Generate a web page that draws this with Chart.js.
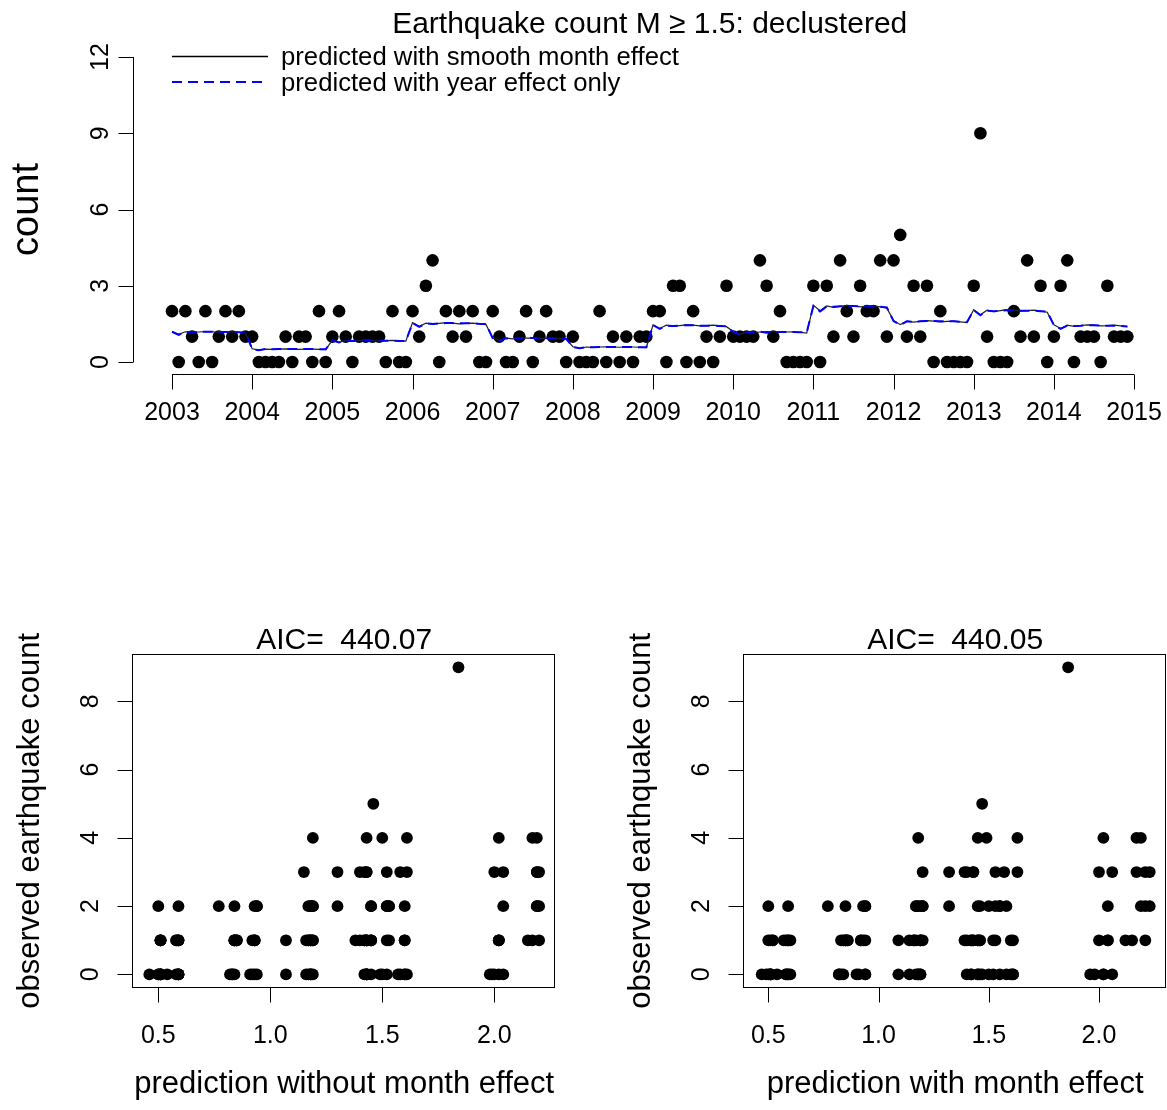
<!DOCTYPE html>
<html><head><meta charset="utf-8">
<script src="https://cdn.jsdelivr.net/npm/chart.js@4.4.1/dist/chart.umd.min.js"></script>
<style>
html,body{margin:0;padding:0;background:#fff;}
#wrap{position:relative;width:1167px;height:1110px;background:#fff;}
canvas{position:absolute;left:0;top:0;}
</style></head><body>
<div id="wrap">
<canvas id="cTop" width="1167" height="1110"></canvas>
<canvas id="cLeft" width="1167" height="1110"></canvas>
<canvas id="cRight" width="1167" height="1110"></canvas>
</div>
<script>
// ---------------- data ----------------
const years = [2003,2004,2005,2006,2007,2008,2009,2010,2011,2012,2013,2014];
// monthly earthquake counts (Jan..Dec for each year)
const counts = [
  2,0,2,1,0,2,0,1,2,1,2,1,   // 2003
  1,0,0,0,0,1,0,1,1,0,2,0,   // 2004
  1,2,1,0,1,1,1,1,0,2,0,0,   // 2005
  2,1,3,4,0,2,1,2,1,2,0,0,   // 2006
  2,1,0,0,1,2,0,1,2,1,1,0,   // 2007
  1,0,0,0,2,0,1,0,1,0,1,1,   // 2008
  2,2,0,3,3,0,2,0,1,0,1,3,   // 2009
  1,1,1,1,4,3,1,2,0,0,0,0,   // 2010
  3,0,3,1,4,2,1,3,2,2,4,1,   // 2011
  4,5,1,3,1,3,0,2,0,0,0,0,   // 2012
  3,9,1,0,0,0,2,1,4,1,3,0,   // 2013
  1,3,4,0,1,1,1,0,3,1,1,1    // 2014
];
// prediction with year effect only
const predYearOnly = [
  1.19,1.07,1.18,1.17,1.18,1.19,1.19,1.18,1.18,1.18,1.17,1.16,
  0.51,0.46,0.51,0.50,0.51,0.51,0.51,0.51,0.51,0.51,0.50,0.50,
  0.85,0.77,0.84,0.83,0.84,0.85,0.85,0.84,0.84,0.84,0.83,0.82,
  1.53,1.38,1.52,1.50,1.52,1.53,1.53,1.52,1.52,1.52,1.50,1.49,
  0.94,0.84,0.93,0.92,0.93,0.94,0.94,0.93,0.93,0.93,0.92,0.91,
  0.59,0.54,0.59,0.58,0.59,0.59,0.59,0.59,0.59,0.59,0.58,0.58,
  1.45,1.30,1.43,1.42,1.43,1.45,1.45,1.43,1.43,1.43,1.42,1.40,
  1.19,1.07,1.18,1.17,1.19,1.15,1.19,1.18,1.18,1.18,1.17,1.16,
  2.20,1.99,2.19,2.17,2.19,2.20,2.20,2.19,2.19,2.19,2.17,2.15,
  1.61,1.46,1.60,1.58,1.60,1.61,1.61,1.60,1.60,1.60,1.58,1.57,
  2.04,1.84,2.02,2.00,2.02,2.04,2.04,2.02,2.02,2.02,2.00,1.98,
  1.45,1.30,1.43,1.42,1.43,1.45,1.45,1.43,1.43,1.43,1.42,1.40
];
// prediction with smooth month effect
const predSmoothMonth = [
  1.20,1.09,1.19,1.16,1.18,1.20,1.19,1.17,1.18,1.19,1.17,1.14,
  0.52,0.47,0.51,0.50,0.51,0.52,0.51,0.50,0.51,0.51,0.50,0.49,
  0.86,0.77,0.85,0.82,0.84,0.86,0.85,0.83,0.84,0.85,0.83,0.82,
  1.55,1.40,1.53,1.49,1.52,1.55,1.53,1.50,1.52,1.53,1.50,1.47,
  0.94,0.85,0.94,0.91,0.93,0.94,0.94,0.92,0.93,0.94,0.92,0.90,
  0.60,0.54,0.59,0.58,0.59,0.60,0.59,0.58,0.59,0.59,0.58,0.57,
  1.46,1.32,1.45,1.40,1.43,1.46,1.45,1.42,1.43,1.45,1.42,1.39,
  1.20,1.09,1.19,1.16,1.18,1.20,1.19,1.17,1.18,1.19,1.17,1.14,
  2.23,2.02,2.21,2.15,2.19,2.23,2.21,2.17,2.19,2.21,2.17,2.12,
  1.63,1.47,1.61,1.57,1.60,1.63,1.61,1.58,1.60,1.61,1.58,1.55,
  2.06,1.86,2.04,1.98,2.02,2.06,2.04,2.00,2.02,2.04,2.00,1.96,
  1.46,1.32,1.45,1.40,1.43,1.46,1.45,1.42,1.43,1.45,1.42,1.39
];
const xTicksTop = [2003,2004,2005,2006,2007,2008,2009,2010,2011,2012,2013,2014,2015];
const yTicksTop = [0,3,6,9,12];
const xTicksBottom = [0.5,1.0,1.5,2.0];
const xTickLabelsBottom = ['0.5','1.0','1.5','2.0'];
const yTicksBottom = [0,2,4,6,8];
const titleTop = 'Earthquake count M \u2265 1.5: declustered';
const legendLabels = ['predicted with smooth month effect','predicted with year effect only'];
const yLabelTop = 'count';
const yLabelBottom = 'observed earthquake count';
const xLabelLeft = 'prediction without month effect';
const xLabelRight = 'prediction with month effect';
const aicLeft = 'AIC=  440.07';
const aicRight = 'AIC=  440.05';

// ---------------- helpers ----------------
const FONT = '"Liberation Sans", Arial, sans-serif';
const W = 1167, H = 1110;
function txt(ctx, s, x, y, size, align, rot){
  ctx.save();
  ctx.font = size + 'px ' + FONT;
  ctx.fillStyle = '#000';
  ctx.textAlign = align || 'center';
  ctx.textBaseline = 'alphabetic';
  ctx.translate(x, y);
  if (rot) ctx.rotate(-Math.PI/2);
  ctx.fillText(s, 0, 0);
  ctx.restore();
}
function seg(ctx, x1, y1, x2, y2, w, color, dash){
  ctx.save();
  ctx.strokeStyle = color || '#000';
  ctx.lineWidth = w || 1;
  ctx.setLineDash(dash || []);
  ctx.beginPath(); ctx.moveTo(x1, y1); ctx.lineTo(x2, y2); ctx.stroke();
  ctx.restore();
}
const timeOf = i => years[Math.floor(i/12)] + (i % 12)/12;

const common = {
  responsive: false,
  animation: false,
  devicePixelRatio: 1,
  events: [],
  plugins: { legend: {display:false}, title:{display:false}, tooltip:{enabled:false} }
};

// ---------------- top chart ----------------
const topAxes = {
  id: 'topAxes',
  afterDraw(chart){
    const {ctx, chartArea: a, scales: {x, y}} = chart;
    const axY = Math.round(a.bottom) + 0.5;
    const axX = Math.round(a.left) - 0.5;
    const xs = xTicksTop.map(t => x.getPixelForValue(t));
    seg(ctx, xs[0], axY, xs[xs.length-1], axY);
    xTicksTop.forEach((t, i) => {
      seg(ctx, Math.round(xs[i])+0.5, axY, Math.round(xs[i])+0.5, axY + 15);
      txt(ctx, String(t), xs[i], 420, 25, 'center');
    });
    const ys = yTicksTop.map(t => y.getPixelForValue(t));
    seg(ctx, axX, ys[0], axX, ys[ys.length-1]);
    yTicksTop.forEach((t, i) => {
      const py = Math.round(ys[i]) + 0.5;
      seg(ctx, axX - 15, py, axX, py);
      txt(ctx, String(t), 108, ys[i], 25, 'center', true);
    });
    txt(ctx, yLabelTop, 37.5, (a.top + a.bottom)/2, 38, 'center', true);
    txt(ctx, titleTop, (a.left + a.right)/2, 33, 30, 'center');
    // legend
    const lx0 = x.getPixelForValue(years[0]);
    seg(ctx, lx0, 56.5, lx0 + 96, 56.5, 1.5, '#000');
    seg(ctx, lx0, 82, lx0 + 96, 82, 2, '#0000ff', [10,6]);
    txt(ctx, legendLabels[0], lx0 + 109, 64.5, 25.7, 'left');
    txt(ctx, legendLabels[1], lx0 + 109, 90.5, 25.7, 'left');
  }
};

new Chart(document.getElementById('cTop'), {
  type: 'scatter',
  data: {
    datasets: [
      { label: 'year', data: predYearOnly.map((v,i)=>({x: timeOf(i), y: v})), showLine: true,
        borderColor: '#0000ff', borderWidth: 2, borderDash: [10,6], pointRadius: 0, tension: 0, order: 1 },
      { label: 'smooth', data: predSmoothMonth.map((v,i)=>({x: timeOf(i), y: v})), showLine: true,
        borderColor: '#222', borderWidth: 1.2, pointRadius: 0, tension: 0, order: 2 },
      { label: 'obs', data: counts.map((c,i)=>({x: timeOf(i), y: c})), showLine: false,
        pointRadius: 6.3, pointBackgroundColor: '#000', pointBorderWidth: 0, order: 3 }
    ]
  },
  options: Object.assign({}, common, {
    layout: { autoPadding: false, padding: { left: 133.8, top: 44.8, right: W - 1165.6, bottom: H - 374.2 } },
    scales: {
      x: { type: 'linear', display: false, min: 2002.5233, max: 2015.3933 },
      y: { type: 'linear', display: false, min: -0.48, max: 12.48 }
    }
  }),
  plugins: [topAxes]
});

// ---------------- bottom charts ----------------
function bottomAxes(id, yLabX, xLabel, title){
  return {
    id,
    afterDraw(chart){
      const {ctx, chartArea: a, scales: {x, y}} = chart;
      const L = Math.round(a.left) - 0.5, R = Math.round(a.right) - 0.5;
      const T = Math.round(a.top) - 0.5, B = Math.round(a.bottom) + 0.5;
      ctx.save();
      ctx.strokeStyle = '#000'; ctx.lineWidth = 1;
      ctx.strokeRect(L, T, R - L, B - T);
      ctx.restore();
      xTicksBottom.forEach((t, i) => {
        const px = Math.round(x.getPixelForValue(t)) + 0.5;
        seg(ctx, px, B, px, B + 15);
        txt(ctx, xTickLabelsBottom[i], x.getPixelForValue(t), 1042.5, 25, 'center');
      });
      yTicksBottom.forEach(t => {
        const py = Math.round(y.getPixelForValue(t)) + 0.5;
        seg(ctx, L - 15, py, L, py);
        txt(ctx, String(t), a.left - 35, y.getPixelForValue(t), 25, 'center', true);
      });
      txt(ctx, yLabelBottom, a.left - yLabX, (a.top + a.bottom)/2, 31, 'center', true);
      txt(ctx, xLabel, (a.left + a.right)/2, 1093, 31, 'center');
      txt(ctx, title, (a.left + a.right)/2, 649, 30, 'center');
    }
  };
}

new Chart(document.getElementById('cLeft'), {
  type: 'scatter',
  data: { datasets: [{ data: counts.map((c,i)=>({x: predYearOnly[i], y: c})),
    pointRadius: 5.9, pointBackgroundColor: '#000', pointBorderWidth: 0 }] },
  options: Object.assign({}, common, {
    layout: { autoPadding: false, padding: { left: 133.3, top: 655, right: W - 555, bottom: H - 986.7 } },
    scales: {
      x: { type: 'linear', display: false, min: 0.3884, max: 2.271 },
      y: { type: 'linear', display: false, min: -0.36, max: 9.36 }
    }
  }),
  plugins: [bottomAxes('leftAxes', 94.8, xLabelLeft, aicLeft)]
});

new Chart(document.getElementById('cRight'), {
  type: 'scatter',
  data: { datasets: [{ data: counts.map((c,i)=>({x: predSmoothMonth[i], y: c})),
    pointRadius: 5.9, pointBackgroundColor: '#000', pointBorderWidth: 0 }] },
  options: Object.assign({}, common, {
    layout: { autoPadding: false, padding: { left: 744.3, top: 655, right: W - 1166, bottom: H - 986.7 } },
    scales: {
      x: { type: 'linear', display: false, min: 0.3911, max: 2.3039 },
      y: { type: 'linear', display: false, min: -0.36, max: 9.36 }
    }
  }),
  plugins: [bottomAxes('rightAxes', 94.8, xLabelRight, aicRight)]
});
</script>
</body></html>
